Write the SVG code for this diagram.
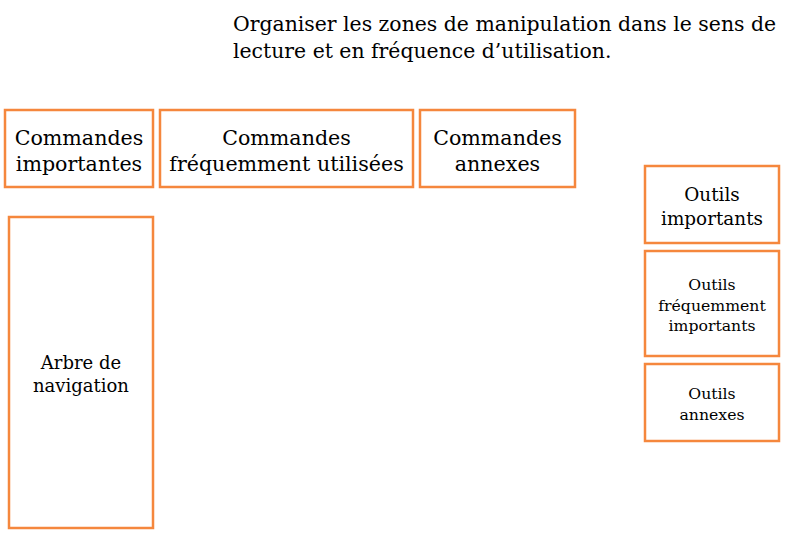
<svg xmlns="http://www.w3.org/2000/svg" width="787" height="535" viewBox="0 0 787 535">
<style>
.box{fill:#fff;stroke:#F5873D;stroke-width:2.5}
text{font-family:"DejaVu Serif","Liberation Serif",serif;fill:#000;text-anchor:middle}
.t{font-size:20.4px;text-anchor:start}
.l{font-size:20.6px}
.a{font-size:18px}
.m{font-size:18.4px}
.s{font-size:15.7px}
</style>
<rect width="787" height="535" fill="#fff"/>
<text class="t" x="233" y="31">Organiser les zones de manipulation dans le sens de</text>
<text class="t" x="233" y="58">lecture et en fréquence d’utilisation.</text>
<g id="n1"><rect class="box" x="5" y="110" width="148" height="77"/><text class="l" x="79" y="145">Commandes</text><text class="l" x="79" y="171">importantes</text></g>
<g id="n2"><rect class="box" x="160" y="110" width="253" height="77"/><text class="l" x="286.5" y="145">Commandes</text><text class="l" x="286.5" y="171">fréquemment utilisées</text></g>
<g id="n3"><rect class="box" x="420" y="110" width="155" height="77"/><text class="l" x="497.5" y="145">Commandes</text><text class="l" x="497.5" y="171">annexes</text></g>
<g id="n4"><rect class="box" x="9" y="217" width="144" height="311"/><text class="a" x="81" y="369">Arbre de</text><text class="a" x="81" y="392">navigation</text></g>
<g id="n5"><rect class="box" x="645" y="166" width="134" height="77"/><text class="m" x="712" y="201">Outils</text><text class="m" x="712" y="225">importants</text></g>
<g id="n6"><rect class="box" x="645" y="251" width="134" height="105"/><text class="s" x="712" y="290">Outils</text><text class="s" x="712" y="311">fréquemment</text><text class="s" x="712" y="331">importants</text></g>
<g id="n7"><rect class="box" x="645" y="364" width="134" height="77"/><text class="s" x="712" y="399">Outils</text><text class="s" x="712" y="420">annexes</text></g>
<g id="connectors"></g>
</svg>
